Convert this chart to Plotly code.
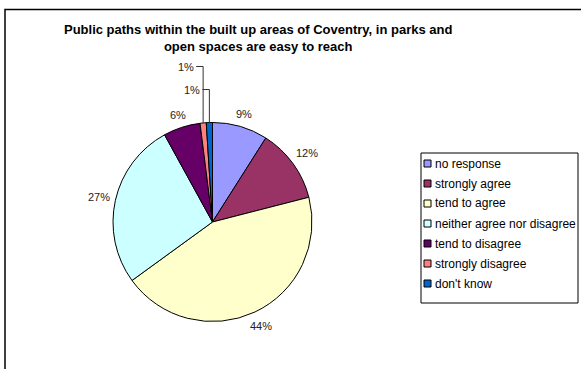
import math
import plotly.graph_objects as go

# Survey responses (percent of respondents)
categories = [
    "no response",
    "strongly agree",
    "tend to agree",
    "neither agree nor disagree",
    "tend to disagree",
    "strongly disagree",
    "don't know",
]
shares = [9, 12, 44, 27, 6, 1, 1]
colors = ["#9999FF", "#993366", "#FFFFCC", "#CCFFFF", "#660066", "#FF8080", "#0066CC"]

title_text = ("<b>Public paths within the built up areas of Coventry, in parks and<br>"
              "open spaces are easy to reach</b>")

W, H = 581, 369
FONT = "Liberation Sans, Arial, sans-serif"

# pie box in pixels (left, right, top, bottom)
PIE_L, PIE_R, PIE_T, PIE_B = 113, 312, 122.5, 321.5


def px(x):
    return x / W


def py(y):
    return (H - y) / H


fig = go.Figure()
fig.add_trace(go.Pie(
    labels=categories,
    values=shares,
    sort=False,
    direction="clockwise",
    rotation=0,
    marker=dict(colors=colors, line=dict(color="black", width=1)),
    textinfo="none",
    domain=dict(x=[px(PIE_L), px(PIE_R)], y=[py(PIE_B), py(PIE_T)]),
    hoverinfo="label+percent",
    showlegend=False,
))

annotations = [dict(
    text=title_text, x=px(258), y=py(38), xref="paper", yref="paper",
    xanchor="center", yanchor="middle", showarrow=False, align="center",
    font=dict(family=FONT, size=13, color="black"),
)]
shapes = [
    dict(type="rect", xref="paper", yref="paper",
         x0=px(5), x1=1.05, y0=-0.05, y1=py(9.5),
         line=dict(color="black", width=1.5), fillcolor="rgba(0,0,0,0)", layer="below"),
    dict(type="rect", xref="paper", yref="paper",
         x0=px(421), x1=px(578), y0=py(303), y1=py(153),
         line=dict(color="black", width=1), fillcolor="white", layer="below"),
]

# Percentage labels placed outside the slices; thin slices get stacked
# labels above the pie with elbow leader lines.
cx = (PIE_L + PIE_R) / 2
cy = (PIE_T + PIE_B) / 2
r = min(PIE_R - PIE_L, PIE_B - PIE_T) / 2
total = sum(shares)
cum = 0.0
tiny = [i for i, s in enumerate(shares) if s / total < 0.02]
for i, s in enumerate(shares):
    theta = 2 * math.pi * (cum + s / 2) / total
    cum += s
    label = f"{round(100 * s / total)}%"
    sx, cy_dir = math.sin(theta), -math.cos(theta)
    if i in tiny:
        k = len(tiny) - 1 - tiny.index(i)   # last slice sits highest
        ly = PIE_T - 33 - 23 * k
        ex = cx + r * sx
        ey = cy + r * cy_dir
        shapes.append(dict(type="path", xref="paper", yref="paper",
                           path=f"M {px(ex - 7)} {py(ly)} L {px(ex)} {py(ly)} L {px(ex)} {py(ey)}",
                           line=dict(color="#333333", width=1)))
        annotations.append(dict(text=label, x=px(ex - 7.5), y=py(ly), xref="paper", yref="paper",
                                xanchor="right", yanchor="middle", showarrow=False,
                                font=dict(family=FONT, size=11, color="#222222")))
    else:
        hw = (6.1 * (len(label) - 1) + 9.8) / 2
        hh = 6
        d = r + 5 + hw * abs(sx) + hh * abs(math.cos(theta))
        lx = cx + d * sx
        ly = cy + d * cy_dir
        annotations.append(dict(text=label, x=px(lx), y=py(ly), xref="paper", yref="paper",
                                xanchor="center", yanchor="middle", showarrow=False,
                                font=dict(family=FONT, size=11, color="#222222")))

# Boxed legend
for i, (name, col) in enumerate(zip(categories, colors)):
    yc = 163.5 + 20 * i
    shapes.append(dict(type="rect", xref="paper", yref="paper",
                       x0=px(424), x1=px(431), y0=py(yc + 3.5), y1=py(yc - 3.5),
                       line=dict(color="black", width=1), fillcolor=col, layer="above"))
    annotations.append(dict(text=name, x=px(433), y=py(yc), xref="paper", yref="paper",
                            xanchor="left", yanchor="middle", showarrow=False,
                            font=dict(family=FONT, size=12, color="black")))

fig.update_layout(
    width=W,
    height=H,
    margin=dict(l=0, r=0, t=0, b=0, autoexpand=False),
    paper_bgcolor="white",
    plot_bgcolor="white",
    annotations=annotations,
    shapes=shapes,
)

fig.write_html("out.html")
